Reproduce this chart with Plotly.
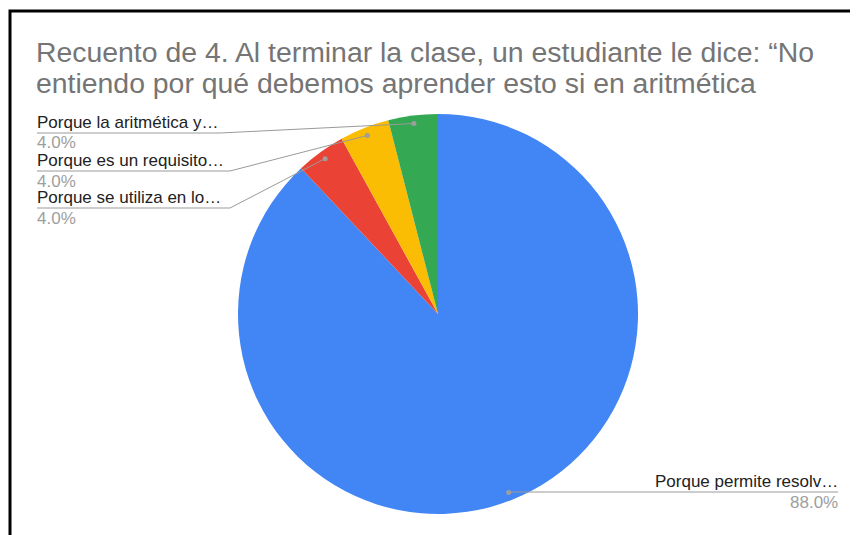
import math
import plotly.graph_objects as go

# ---- data ----
labels = ["Porque permite resolv…", "Porque se utiliza en lo…", "Porque es un requisito…", "Porque la aritmética y…"]
values = [22, 1, 1, 1]
colors = ["#4285F4", "#EA4335", "#FBBC04", "#34A853"]
title_lines = ["Recuento de 4. Al terminar la clase, un estudiante le dice: “No",
               "entiendo por qué debemos aprender esto si en aritmética"]

W, H = 858, 535
OFF = 8  # page body margin
CX, CY, R = 438, 314, 200

def X(px):
    return (px - OFF) / W

def Y(py):
    return 1 - (py - OFF) / H

fig = go.Figure()
fig.add_trace(go.Pie(
    values=values, labels=labels, sort=False, direction="clockwise", rotation=0,
    marker=dict(colors=colors, line=dict(width=0)),
    textinfo="none", showlegend=False, hole=0,
    domain=dict(x=[X(CX - R), X(CX + R)], y=[Y(CY + R), Y(CY - R)]),
))

total = sum(values)
cum = 0
dots = []
for v in values:
    mid = (cum + v / 2) / total
    cum += v
    th = 2 * math.pi * mid
    dots.append((CX + 0.96 * R * math.sin(th), CY - 0.96 * R * math.cos(th)))

# label layout: (side, line y, elbow x)
layout_pos = {
    0: ("right", 492, 838),
    1: ("left", 208, 230),
    2: ("left", 171, 230),
    3: ("left", 133, 220),
}
LEFT_X = 37
shapes = []
annotations = []
line_col = "#9a9a9a"
LBL = dict(size=17, color="#222222")
PCT = dict(size=17, color="#9e9e9e")
for i, (dx, dy) in enumerate(dots):
    side, ly, ex = layout_pos[i]
    pct = f"{100 * values[i] / total:.1f}%"
    if side == "left":
        shapes.append(dict(type="line", xref="paper", yref="paper",
                           x0=X(LEFT_X), y0=Y(ly), x1=X(ex), y1=Y(ly),
                           line=dict(color=line_col, width=1)))
        shapes.append(dict(type="line", xref="paper", yref="paper",
                           x0=X(ex), y0=Y(ly), x1=X(dx), y1=Y(dy),
                           line=dict(color=line_col, width=1)))
        ax, anc = LEFT_X - 1, "left"
    else:
        shapes.append(dict(type="line", xref="paper", yref="paper",
                           x0=X(dx), y0=Y(ly), x1=X(ex), y1=Y(ly),
                           line=dict(color=line_col, width=1)))
        ax, anc = ex + 1, "right"
    annotations.append(dict(xref="paper", yref="paper", x=X(ax), y=Y(ly - 11),
                            xanchor=anc, yanchor="middle", showarrow=False, borderpad=0,
                            text=labels[i], font=LBL))
    annotations.append(dict(xref="paper", yref="paper", x=X(ax), y=Y(ly + 10),
                            xanchor=anc, yanchor="middle", showarrow=False, borderpad=0,
                            text=pct, font=PCT))
    shapes.append(dict(type="circle", xref="paper", yref="paper",
                       x0=X(dx - 2.5), y0=Y(dy + 2.5), x1=X(dx + 2.5), y1=Y(dy - 2.5),
                       fillcolor="#9e9e9e", line=dict(width=0)))

# outer black frame
shapes.append(dict(type="rect", xref="paper", yref="paper",
                   x0=X(10), y0=Y(H + 40), x1=X(W + 40), y1=Y(11),
                   line=dict(color="black", width=3), fillcolor="rgba(0,0,0,0)"))

for k, (t, cy) in enumerate(zip(title_lines, [52, 83])):
    annotations.append(dict(xref="paper", yref="paper", x=X(35), y=Y(cy),
                            xanchor="left", yanchor="middle", align="left", showarrow=False,
                            borderpad=0, text=t, font=dict(size=28.4, color="#757575")))

fig.update_layout(
    width=W, height=H, margin=dict(l=0, r=0, t=0, b=0),
    paper_bgcolor="white", plot_bgcolor="white",
    font=dict(family="Liberation Sans, Arial, sans-serif"),
    shapes=shapes, annotations=annotations,
)
fig.write_html("out.html")
